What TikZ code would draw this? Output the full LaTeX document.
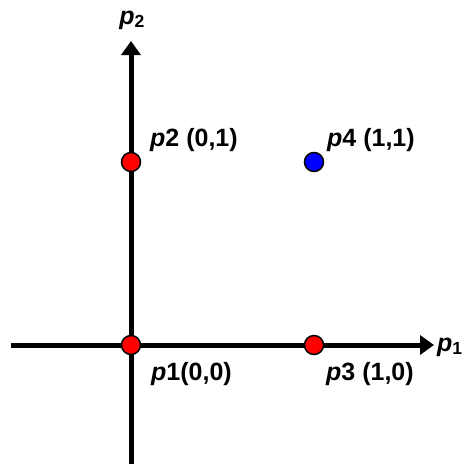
\documentclass[tikz,border=0pt]{standalone}
\usepackage{fontspec}
\setmainfont{Liberation Sans}
\usepackage{tikz}
\usetikzlibrary{arrows.meta,positioning}

\begin{document}
\begin{tikzpicture}[
  x=1pt, y=-1pt,
  font=\fontsize{25}{27}\selectfont\bfseries,
  axis/.style={line width=5pt, -{Triangle[length=14pt,width=19pt]}},
  dot/.style={circle, draw=black, line width=1.5pt, minimum size=19pt, inner sep=0pt},
  lbl/.style={inner sep=0pt, anchor=west}
]
\useasboundingbox (0,0) rectangle (465,464);
% axes
\coordinate (xs) at (11,345);
\coordinate (xe) at (434,345);
\coordinate (ys) at (131,464);
\coordinate (ye) at (131,41);
\draw[axis] (xs) -- (xe);
\draw[axis] (ys) -- (ye);
\node[lbl] (p1ax) at (437,347) {\textit{p}\textsubscript{1}};
\node[inner sep=0pt] (p2ax) at (132,20) {\textit{p}\textsubscript{2}};
% points
\node[dot, fill=red] (p1) at (131,345) {};
\node[dot, fill=red] (p2) at (131,162) {};
\node[dot, fill=red] (p3) at (314,345) {};
\node[dot, fill=blue] (p4) at (314,162) {};
% labels
\node[lbl] (l1) at (151,374) {\textit{p}1(0,0)};
\node[lbl] (l2) at (150,140) {\textit{p}2 (0,1)};
\node[lbl] (l3) at (326,374) {\textit{p}3 (1,0)};
\node[lbl] (l4) at (327,140) {\textit{p}4 (1,1)};
\end{tikzpicture}
\end{document}
